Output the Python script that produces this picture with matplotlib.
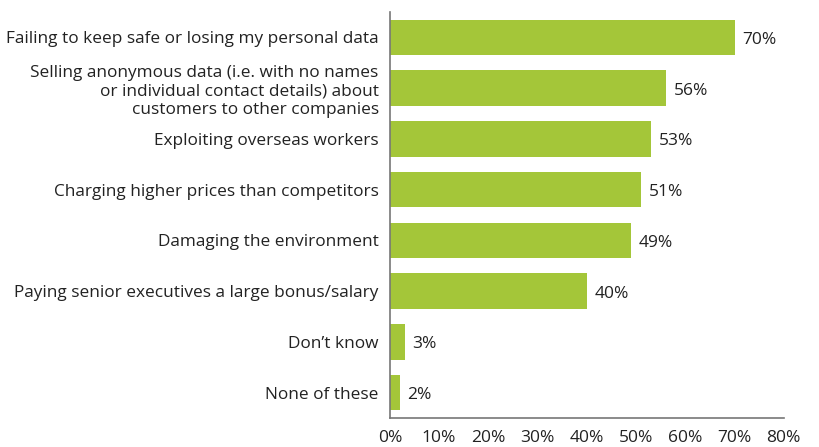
import matplotlib
matplotlib.use('Agg')
import matplotlib.pyplot as plt
from matplotlib.ticker import FuncFormatter

# Reasons people gave, top to bottom
categories = [
    'Failing to keep safe or losing my personal data',
    'Selling anonymous data (i.e. with no names\nor individual contact details) about\ncustomers to other companies',
    'Exploiting overseas workers',
    'Charging higher prices than competitors',
    'Damaging the environment',
    'Paying senior executives a large bonus/salary',
    'Don\u2019t know',
    'None of these',
]
values = [70, 56, 53, 51, 49, 40, 3, 2]
xticks = [0, 10, 20, 30, 40, 50, 60, 70, 80]

plt.rcParams['font.family'] = ['Open Sans', 'DejaVu Sans']

fig = plt.figure(figsize=(8.19, 4.47), dpi=100)
ax = fig.add_axes([0.476, 0.065, 0.481, 0.908])

ypos = list(range(len(categories)))
ax.barh(ypos, values, height=0.7, color='#a4c639')

# Value labels to the right of each bar
for y, v in zip(ypos, values):
    ax.text(v + 1.6, y + 0.05, '{}%'.format(v), va='center', ha='left',
            fontsize=12.5, color='#222222')

ax.set_xlim(0, 80)
ax.set_ylim(len(categories) - 0.5, -0.5)
ax.set_yticks(ypos)
ax.set_yticklabels(categories, fontsize=12.4, color='#222222', linespacing=1.2)
ax.set_xticks(xticks)
ax.xaxis.set_major_formatter(FuncFormatter(lambda x, p: '{:.0f}%'.format(x)))
ax.tick_params(axis='x', length=0, pad=9, labelsize=12.5, labelcolor='#222222')
ax.tick_params(axis='y', length=0, pad=8)

for s in ['top', 'right']:
    ax.spines[s].set_visible(False)
for s in ['left', 'bottom']:
    ax.spines[s].set_color('#777777')
    ax.spines[s].set_linewidth(1.2)

fig.savefig('out.png', dpi=100)
